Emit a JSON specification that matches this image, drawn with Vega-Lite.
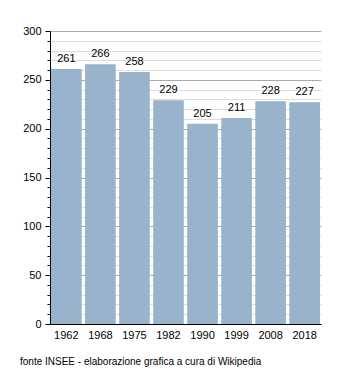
{
  "$schema": "https://vega.github.io/schema/vega-lite/v6.json",
  "autosize": "none",
  "width": 271,
  "height": 293,
  "padding": {"left": 50, "top": 31, "right": 29, "bottom": 49},
  "background": "white",
  "config": {"view": {"stroke": null}, "font": "Liberation Sans"},
  "title": {
    "text": "fonte INSEE - elaborazione grafica a cura di Wikipedia",
    "orient": "bottom",
    "anchor": "start",
    "frame": "group",
    "dx": -30,
    "offset": 17,
    "fontSize": 10,
    "fontWeight": "normal",
    "font": "Liberation Sans",
    "color": "#000000"
  },
  "data": {
    "values": [
      {"year": "1962", "pop": 261},
      {"year": "1968", "pop": 266},
      {"year": "1975", "pop": 258},
      {"year": "1982", "pop": 229},
      {"year": "1990", "pop": 205},
      {"year": "1999", "pop": 211},
      {"year": "2008", "pop": 228},
      {"year": "2018", "pop": 227}
    ]
  },
  "encoding": {
    "x": {
      "field": "year",
      "type": "nominal",
      "sort": null,
      "scale": {"paddingInner": 0.1, "paddingOuter": 0.03},
      "axis": {
        "title": null,
        "labelAngle": 0,
        "ticks": false,
        "labelPadding": 5,
        "labelFontSize": 11,
        "labelColor": "#000000",
        "labelFont": "Liberation Sans",
        "domainColor": "#000000",
        "domainWidth": 1
      }
    },
    "y": {
      "field": "pop",
      "type": "quantitative",
      "scale": {"domain": [0, 300], "nice": false},
      "axis": {
        "title": null,
        "values": [0,10,20,30,40,50,60,70,80,90,100,110,120,130,140,150,160,170,180,190,200,210,220,230,240,250,260,270,280,290,300],
        "labelExpr": "datum.value % 50 === 0 ? datum.label : ''",
        "labelFontSize": 11,
        "labelColor": "#000000",
        "labelFont": "Liberation Sans",
        "labelPadding": 4,
        "domainColor": "#000000",
        "tickColor": "#000000",
        "tickSize": {"condition": {"test": "datum.value % 50 === 0", "value": 5}, "value": 3},
        "gridColor": {"condition": {"test": "datum.value % 50 === 0", "value": "#aaaaaa"}, "value": "#dddddd"}
      }
    }
  },
  "layer": [
    {"mark": {"type": "bar", "color": "#9ab3cc"}},
    {
      "mark": {"type": "text", "dy": -10, "fontSize": 11, "font": "Liberation Sans", "color": "#000000"},
      "encoding": {"text": {"field": "pop", "type": "quantitative"}}
    }
  ]
}
